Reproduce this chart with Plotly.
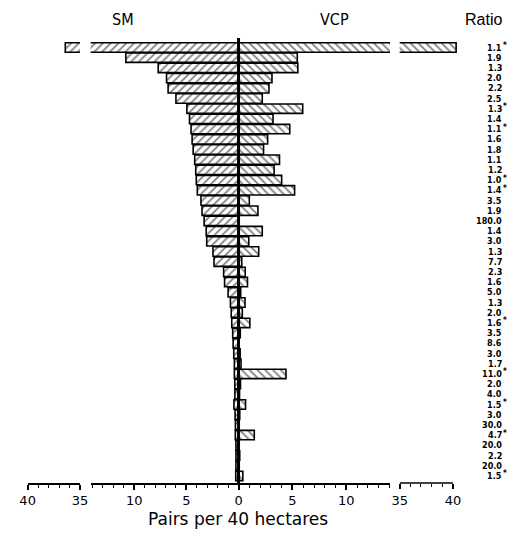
import plotly.graph_objects as go

# page window is 529x537; the browser body adds an 8px margin, so the
# figure is sized to fit inside it and coordinates are offset by 8px
W, H = 529, 537
OFF = 8
FW, FH = W - 2 * OFF, H - 2 * OFF

# ---------------- data ----------------
sm_values = [36.4, 10.8, 7.7, 6.9, 6.75, 6.0, 4.95, 4.7, 4.55, 4.45, 4.35, 4.2, 4.1, 4.05,
             3.95, 3.6, 3.5, 3.3, 3.1, 3.05, 2.45, 2.35, 1.43, 1.34, 1.0, 0.78, 0.7, 0.65,
             0.56, 0.52, 0.46, 0.4, 0.4, 0.36, 0.35, 0.44, 0.33, 0.3, 0.31, 0.25, 0.25,
             0.25, 0.27]
vcp_values = [40.3, 5.45, 5.5, 3.1, 2.82, 2.2, 5.95, 3.2, 4.75, 2.7, 2.32, 3.8, 3.3, 4.0,
              5.2, 1.0, 1.8, 0.02, 2.2, 0.95, 1.87, 0.3, 0.62, 0.83, 0.2, 0.6, 0.35, 1.05,
              0.16, 0.06, 0.15, 0.23, 4.4, 0.18, 0.09, 0.65, 0.11, 0.01, 1.46, 0.01, 0.11,
              0.01, 0.4]
ratio_labels = ["1.1*", "1.9", "1.3", "2.0", "2.2", "2.5", "1.3*", "1.4", "1.1*", "1.6",
                "1.8", "1.1", "1.2", "1.0*", "1.4*", "3.5", "1.9", "180.0", "1.4", "3.0",
                "1.3", "7.7", "2.3", "1.6", "5.0", "1.3", "2.0", "1.6*", "3.5", "8.6",
                "3.0", "1.7", "11.0*", "2.0", "4.0", "1.5*", "3.0", "30.0", "4.7*", "20.0",
                "2.2", "20.0", "1.5*"]
rows = list(range(len(sm_values)))

low_ticks = [0, 5, 10]
high_ticks = [35, 40]
# --------------------------------------

def px(x):
    return (x - OFF) / FW

def py(y):
    return 1 - (y - OFF) / FH

y_bottom_px, y_top_px = 483, 40
row_top, row_pitch = 47.5, 10.2
y_lo = (y_top_px - row_top) / row_pitch
y_hi = (y_bottom_px - row_top) / row_pitch

sm_pat = dict(shape="/", fgcolor="black", bgcolor="white", size=5.5, solidity=0.32)
vcp_pat = dict(shape="\\", fgcolor="black", bgcolor="white", size=5.5, solidity=0.32)
line = dict(color="black", width=1.6)

fig = go.Figure()
for xa, vals, pat in [("x", sm_values, sm_pat), ("x2", sm_values, sm_pat),
                      ("x3", vcp_values, vcp_pat), ("x4", vcp_values, vcp_pat)]:
    fig.add_trace(go.Bar(x=vals, y=rows, orientation="h", xaxis=xa, yaxis="y",
                         marker=dict(color="white", pattern=pat, line=line),
                         width=0.92, showlegend=False, hoverinfo="skip"))

tickfam = "DejaVu Sans, Liberation Sans, sans-serif"
headfam = "Liberation Sans Narrow, DejaVu Sans Condensed, Arial Narrow, sans-serif"
fontfam = "Liberation Sans, Arial, sans-serif"
tickfont = dict(family=tickfam, size=13, color="black")
common = dict(anchor="y", showgrid=False, zeroline=False, showline=True, linecolor="black",
              linewidth=1.5, ticks="outside", ticklen=5, tickwidth=1.5, tickcolor="black",
              tickfont=tickfont, tickmode="array", fixedrange=True,
              minor=dict(ticks="outside", ticklen=3, tickwidth=1.2, tickcolor="black",
                         dtick=1, tick0=0, showgrid=False))

# axis segment geometry (pixels in the page)
zero_px = 237.7
left_scale, right_scale = 10.77, 11.13
b_left = 85
c_right = 394
b_max = (zero_px - b_left) / left_scale
c_max = (c_right - zero_px) / right_scale
d_left, d_scale = 404, 11.0
d_right = 467
d_max = 35 + (d_right - d_left) / d_scale

fig.update_layout(
    width=FW, height=FH, margin=dict(l=0, r=0, t=0, b=0),
    paper_bgcolor="white", plot_bgcolor="rgba(0,0,0,0)",
    barmode="overlay",
    yaxis=dict(domain=[py(y_bottom_px), py(y_top_px)], range=[y_hi, y_lo], visible=False,
               fixedrange=True),
    xaxis=dict(domain=[px(20), px(74)], range=[40, 35], tickvals=high_ticks, **common),
    xaxis2=dict(domain=[px(b_left), px(zero_px)], range=[b_max, 0], tickvals=low_ticks, **common),
    xaxis3=dict(domain=[px(zero_px), px(c_right)], range=[0, c_max], tickvals=low_ticks[1:], **common),
    xaxis4=dict(domain=[px(d_left), px(d_right)], range=[35, d_max], tickvals=high_ticks,
                **{**common, "showline": False}),
)
# axis line for the upper VCP segment only up to 40
fig.add_shape(type="line", xref="x4", yref="paper", x0=35, x1=40,
              y0=py(y_bottom_px), y1=py(y_bottom_px), line=dict(color="black", width=1.5))

# central zero line
fig.add_shape(type="line", xref="paper", yref="paper", x0=px(zero_px), x1=px(zero_px),
              y0=py(y_bottom_px), y1=py(38), line=dict(color="black", width=3))

ann = []
for label, x, fam in [("SM", 118, headfam), ("VCP", 337, headfam), ("Ratio", 491, fontfam)]:
    ann.append(dict(text=label, x=px(x), y=py(20), xref="paper", yref="paper",
                    showarrow=False, xanchor="center", yanchor="middle",
                    font=dict(family=fam, size=16, color="black")))
ann.append(dict(text="Pairs per 40 hectares", x=px(237), y=py(508), xref="paper", yref="paper",
                showarrow=False, xanchor="center", yanchor="top", borderpad=0,
                font=dict(family=tickfam, size=17, color="black")))

rfont = dict(family=headfam, size=9, color="black")
for r, lab in zip(rows, ratio_labels):
    star = lab.endswith("*")
    num = lab.rstrip("*")
    ann.append(dict(text="<b>%s</b>" % num, x=px(511), y=r, xref="paper", yref="y",
                    showarrow=False, xanchor="right", yanchor="middle", font=rfont,
                    borderpad=0))
    if star:
        ann.append(dict(text="<b>*</b>", x=px(509.5), y=r - 0.2, xref="paper", yref="y",
                        showarrow=False, xanchor="left", yanchor="middle", borderpad=0,
                        font=dict(family=rfont["family"], size=8, color="black")))
fig.update_layout(annotations=ann)

fig.write_html("out.html")
